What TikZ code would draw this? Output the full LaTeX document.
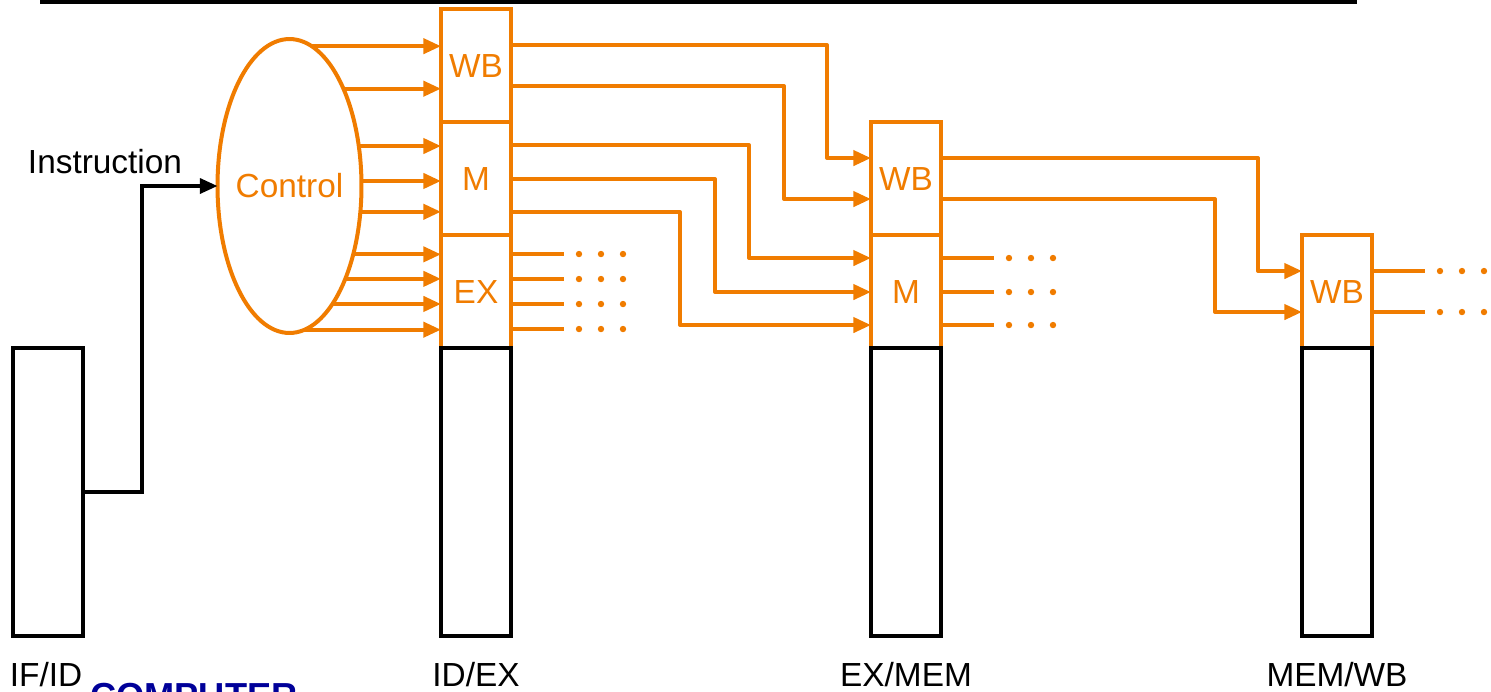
\documentclass[tikz,border=0pt]{standalone}
\usepackage{fontspec}
\setmainfont{Liberation Sans}
\usetikzlibrary{shapes.geometric,arrows.meta,positioning,calc}
\definecolor{ctrlorange}{HTML}{F07C00}
\definecolor{titlenavy}{HTML}{000099}

\begin{document}
\begin{tikzpicture}[x=0.02cm,y=-0.02cm,
  font=\fontsize{19}{23}\selectfont,
  reg/.style={draw,line width=0.08cm,minimum width=1.4cm,minimum height=5.76cm,
              inner sep=0pt,outer sep=0pt},
  fld/.style={draw=ctrlorange,text=ctrlorange,line width=0.08cm,minimum width=1.4cm,
              minimum height=2.26cm,inner sep=0pt,outer sep=0pt},
  ctl/.style={ellipse,draw=ctrlorange,text=ctrlorange,line width=0.08cm,
              minimum width=2.88cm,minimum height=5.88cm,inner sep=0pt,outer sep=0pt},
  arr/.style={-{Triangle[length=10pt,width=8.5pt]},line width=0.08cm,ctrlorange,line join=round},
  sig/.style={line width=0.08cm,ctrlorange},
  blk/.style={-{Triangle[length=10pt,width=8.5pt]},line width=0.07cm,black},
  lbl/.style={anchor=base,inner sep=0pt}
]
\useasboundingbox (0,0) rectangle (1491,691);
\clip (0,0) rectangle (1491,691);
\draw[line width=0.09cm] (40,2) -- (1357,2);

\node[fld,anchor=south] (idexEX) at (476,348) {EX};
\node[fld,above=0pt of idexEX] (idexM) {M};
\node[fld,above=0pt of idexM] (idexWB) {WB};
\node[fld,anchor=south] (exmemM) at (906,348) {M};
\node[fld,above=0pt of exmemM] (exmemWB) {WB};
\node[fld,anchor=south] (memwbWB) at (1337,348) {WB};

\node[reg] (ifid) at (48,492) {};
\node[reg,below=0pt of idexEX] (idex) {};
\node[reg,below=0pt of exmemM] (exmem) {};
\node[reg,below=0pt of memwbWB] (memwb) {};

\node[lbl] (ifidlbl) at ($(ifid.south)+(-2,51)$) {IF/ID};
\node[lbl] (idexlbl) at ($(idex.south)+(0,51)$) {ID/EX};
\node[lbl] (exmemlbl) at ($(exmem.south)+(0,51)$) {EX/MEM};
\node[lbl] (memwblbl) at ($(memwb.south)+(0,51)$) {MEM/WB};
\node[anchor=north west,inner sep=0pt,text=titlenavy,
      font=\bfseries\fontsize{20.6}{24}\selectfont] (title) at (90,683) {COMPUTER};

\node[ctl] (ctrl) at (289.5,186) {\makebox[0pt]{Control}};
\node[lbl] (instr) at (105,173) {Instruction};
\draw[blk] (ifid.east) -- ++(59,0) |- (ctrl.west);

\foreach \a/\f in {81.3/idexWB,61.3/idexWB,30/idexM,4.8/idexM,-20.1/idexM,
                   -47.3/idexEX,-59.5/idexEX,-70.4/idexEX,-84.3/idexEX}
  \draw[arr] (ctrl.\a) -- (ctrl.\a -| \f.west);

\foreach \o/\d in {36/44,77/87}
  \draw[arr] ($(idexWB.north east)+(0,\o)$) -| ($(exmemWB.north west)+(-\d,\o)$)
    -- ($(exmemWB.north west)+(0,\o)$);
\foreach \o/\d in {23/122,57/156,90/191}
  \draw[arr] ($(idexM.north east)+(0,\o)$) -| ($(exmemM.north west)+(-\d,\o)$)
    -- ($(exmemM.north west)+(0,\o)$);
\foreach \o/\d in {36/44,77/87}
  \draw[arr] ($(exmemWB.north east)+(0,\o)$) -| ($(memwbWB.north west)+(-\d,\o)$)
    -- ($(memwbWB.north west)+(0,\o)$);

\foreach \f/\o in {idexEX/19,idexEX/44,idexEX/69,idexEX/94,
                   exmemM/23,exmemM/57,exmemM/90,memwbWB/36,memwbWB/77} {
  \coordinate (e) at ($(\f.north east)+(53,\o)$);
  \draw[sig] ($(\f.north east)+(0,\o)$) -- (e);
  \foreach \k in {15,37,59}
    \fill[ctrlorange] ($(e)+(\k,0)$) circle (3.2);
}
\end{tikzpicture}
\end{document}
